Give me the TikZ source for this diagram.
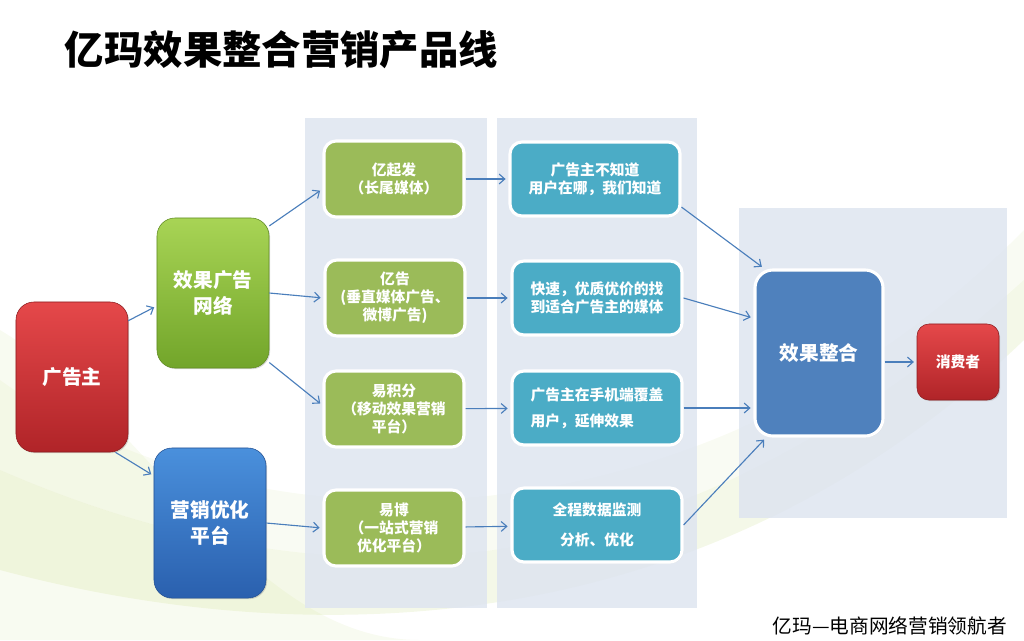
\documentclass[tikz,border=0pt]{standalone}
\usepackage{fontspec}
\setmainfont{Noto Sans CJK SC}
\usetikzlibrary{positioning,arrows.meta,shadows}

\definecolor{panel}{HTML}{DEE5F0}
\definecolor{linkblue}{HTML}{4A7EBB}
\definecolor{leaf}{HTML}{C8DC8A}
\definecolor{redtop}{HTML}{E5484A}
\definecolor{redbot}{HTML}{B02428}
\definecolor{greentop}{HTML}{A8D455}
\definecolor{greenbot}{HTML}{72A52A}
\definecolor{bluetop}{HTML}{4A90DC}
\definecolor{bluebot}{HTML}{2A60AE}
\definecolor{prodgreen}{HTML}{9BBB59}
\definecolor{valueteal}{HTML}{4BACC6}
\definecolor{mergeblue}{HTML}{4F81BD}

\tikzset{
  softshadow/.style={drop shadow={opacity=.3,shadow xshift=.8pt,shadow yshift=-.8pt}},
  bigbox/.style={rounded corners=.45cm,minimum width=2.8cm,minimum height=3.75cm,
    text=white,align=center,font=\bfseries\fontsize{14}{19}\selectfont,softshadow},
  redbox/.style={bigbox,top color=redtop,bottom color=redbot,draw=redbot!80!black},
  greenbox/.style={bigbox,top color=greentop,bottom color=greenbot,draw=greenbot!85!black},
  bluebox/.style={bigbox,top color=bluetop,bottom color=bluebot,draw=bluebot!85!black},
  prodbox/.style={rounded corners=.3cm,minimum width=3.5cm,minimum height=1.9cm,
    fill=prodgreen,draw=white,line width=2.2pt,text=white,align=center,
    font=\bfseries\fontsize{10.5}{12.8}\selectfont,softshadow},
  valuebox/.style={prodbox,fill=valueteal,minimum width=4.25cm,minimum height=1.85cm},
  link/.style={->,linkblue,line width=.8pt,shorten >=2pt}
}

\begin{document}
\begin{tikzpicture}[x=0.025cm,y=-0.025cm,>={Straight Barb[length=4pt,width=7pt]}]
\useasboundingbox (0,0) rectangle (1024,640);
\fill[leaf,opacity=.12] (0,330) .. controls (150,420) and (250,640) .. (420,640) -- (0,640) -- cycle;
\fill[leaf,opacity=.2] (0,470) .. controls (300,600) and (650,620) .. (1024,280) -- (1024,340) .. controls (700,650) and (300,650) .. (0,570) -- cycle;
\fill[leaf,opacity=.1] (0,380) .. controls (250,560) and (700,560) .. (1024,230) -- (1024,280) .. controls (650,620) and (300,600) .. (0,470) -- cycle;
\fill[panel,opacity=.85] (305,118) rectangle (487,608);
\fill[panel,opacity=.85] (497,118) rectangle (697,608);
\fill[panel,opacity=.85] (739,208) rectangle (1007,518);

\node[anchor=west,font=\bfseries\fontsize{28}{32}\selectfont] (title) at (60,50) {亿玛效果整合营销产品线};

\node[redbox] (ad) at (72,377) {广告主};
\node[greenbox] (net) at (213,293) {效果广告\\网络};
\node[bluebox] (plat) at (210,523) {营销优化\\平台};

\node[prodbox] (yqf) at (394,179) {亿起发\\（长尾媒体）};
\node[prodbox] (yg) at (395,298) {亿告\\(垂直媒体广告、\\微博广告)};
\node[prodbox] (yjf) at (394,409) {易积分\\（移动效果营销\\平台）};
\node[prodbox] (yb) at (394,528) {易博\\（一站式营销\\优化平台）};

\node[valuebox] (know) at (595,179) {广告主不知道\\用户在哪，我们知道};
\node[valuebox] (fast) at (597,298) {快速，优质优价的找\\到适合广告主的媒体};
\node[valuebox,align=left] (mobile) at (597,408) {广告主在手机端覆盖\\[6pt]用户，延伸效果};
\node[valuebox] (track) at (597,525) {全程数据监测\\[9pt]分析、优化};

\node[bigbox,fill=mergeblue,draw=white,line width=2.2pt,minimum width=3.2cm,minimum height=4.15cm] (merge) at (819,353) {效果整合};
\node[redbox,rounded corners=.3cm,minimum width=2.05cm,minimum height=1.9cm,font=\bfseries\fontsize{10.5}{12}\selectfont] (buyer) at (958,362) {消费者};

\node[anchor=east,font=\fontsize{14}{16}\selectfont] (slogan) at (1012,626) {亿玛—电商网络营销领航者};

\draw[link] (ad.45) -- (net.193);
\draw[link] (ad.-60) -- (plat.140);
\draw[link] (net.50) -- (yqf.188);
\draw[link] (net.east) -- (yg.west);
\draw[link] (net.-51) -- (yjf.177);
\draw[link] (plat.east) -- (yb.west);
\draw[link] (yqf) -- (know);
\draw[link] (yg) -- (fast);
\draw[link] (yjf) -- (mobile);
\draw[link] (yb) -- (track);
\draw[link] (know.-18) -- (merge.123);
\draw[link] (fast.east) -- (merge.152);
\draw[link] (mobile.east) -- (mobile.east -| merge.west);
\draw[link] (track.east) -- (merge.-122);
\draw[link] (merge.east |- buyer.west) -- (buyer.west);
\end{tikzpicture}
\end{document}
